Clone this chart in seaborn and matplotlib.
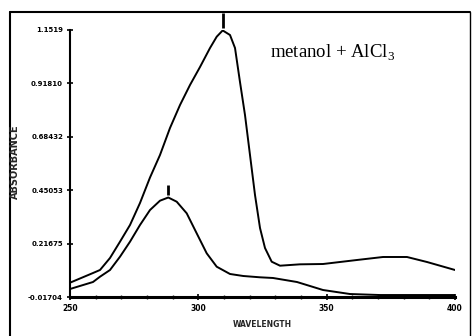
import numpy as np
import pandas as pd
import matplotlib
matplotlib.use("Agg")
import matplotlib.pyplot as plt
from matplotlib.lines import Line2D
import seaborn as sns

# --- data ---
wl_upper = [250.0, 258.96, 261.69, 265.58, 269.48, 273.38, 277.27, 281.17, 285.06, 288.96,
            292.86, 296.75, 300.65, 304.55, 307.16, 309.49, 312.34, 314.29, 316.23, 318.18,
            320.13, 322.08, 324.03, 325.97, 328.58, 331.82, 339.6, 348.57, 361.82, 371.95,
            381.30, 389.09, 400.0]
abs_upper = [0.0456, 0.0880, 0.1012, 0.1537, 0.2251, 0.2982, 0.3945, 0.5061, 0.6046, 0.7229,
             0.8235, 0.9111, 0.9899, 1.0731, 1.1226, 1.1500, 1.1300, 1.0731, 0.9242, 0.7798,
             0.6046, 0.4295, 0.2850, 0.1975, 0.1375, 0.1200, 0.1260, 0.1274, 0.1450, 0.1581,
             0.1581, 0.1362, 0.1012]

wl_lower = [250.0, 258.96, 261.69, 265.58, 269.48, 273.38, 277.27, 281.17, 285.06, 288.30,
            291.57, 295.47, 299.36, 303.26, 307.16, 312.34, 317.52, 324.03, 329.09, 338.44,
            348.57, 359.09, 370.78, 400.0]
abs_lower = [0.0180, 0.0486, 0.0718, 0.1011, 0.1594, 0.2251, 0.2982, 0.3638, 0.4046, 0.4186,
             0.4002, 0.3494, 0.2618, 0.1743, 0.1156, 0.0837, 0.0749, 0.0692, 0.0662, 0.0486,
             0.0136, -0.0040, -0.0084, -0.0084]

y_ticks = [-0.01704, 0.21675, 0.45053, 0.68432, 0.91810, 1.1519]
y_tick_labels = ["-0.01704", "0.21675", "0.45053", "0.68432", "0.91810", "1.1519"]
x_ticks = [250, 300, 350, 400]
x_tick_labels = ["250", "300", "350", "400"]
annotation = "metanol + AlCl$_3$"
x_label = "WAVELENGTH"
y_label = "ABSORBANCE"

sns.set_theme(style="white")
plt.rcParams["font.family"] = ["DejaVu Sans"]
plt.rcParams["mathtext.fontset"] = "custom"
plt.rcParams["mathtext.rm"] = "Liberation Serif"

fig = plt.figure(figsize=(4.73, 3.36), dpi=100)
ax = fig.add_axes([70 / 473, 1 - 297 / 336, (455 - 70) / 473, (297 - 30) / 336])

df_u = pd.DataFrame({"wl": wl_upper, "abs": abs_upper})
df_l = pd.DataFrame({"wl": wl_lower, "abs": abs_lower})
sns.lineplot(data=df_u, x="wl", y="abs", ax=ax, color="black", lw=1.4, estimator=None, sort=True)
sns.lineplot(data=df_l, x="wl", y="abs", ax=ax, color="black", lw=1.4, estimator=None, sort=True)

# peak markers
for w, a, top in ((wl_upper, abs_upper, 0.075), (wl_lower, abs_lower, 0.055)):
    i = int(np.argmax(a))
    ax.vlines(w[i], a[i] + 0.012, a[i] + top, color="black", lw=2, clip_on=False)

ax.set_xlim(250, 400)
ax.set_ylim(y_ticks[0], y_ticks[-1])
ax.set_xticks(x_ticks)
ax.set_xticklabels(x_tick_labels, fontsize=5.5, fontweight="bold")
ax.set_xticks(np.arange(250, 401, 10), minor=True)
ax.set_yticks(y_ticks)
ax.set_yticklabels(y_tick_labels, fontsize=5, fontweight="bold")
ax.tick_params(axis="both", which="major", direction="inout", length=4, width=1.2,
               bottom=True, left=True, pad=3, colors="black")
ax.tick_params(axis="x", which="minor", direction="inout", length=3, width=1, bottom=True)
ax.set_xlabel(x_label, fontsize=5.5, fontweight="bold", labelpad=5)
ax.set_ylabel("")
ax.grid(False)

for s in ("top", "right"):
    ax.spines[s].set_visible(False)
ax.spines["left"].set_linewidth(1.5)
ax.spines["bottom"].set_linewidth(2.2)
ax.spines["left"].set_color("black")
ax.spines["bottom"].set_color("black")

ax.text(0.52, 0.915, annotation, transform=ax.transAxes, fontsize=13.5,
        family="Liberation Serif", ha="left", va="center", color="black")

fig.text(15 / 473, 1 - 162 / 336, y_label, rotation=90, fontsize=7, fontweight="bold",
         ha="center", va="center")

# outer scanned frame
fig.add_artist(Line2D([10 / 473, 470 / 473], [1 - 12 / 336, 1 - 12 / 336], color="black", lw=1.5))
fig.add_artist(Line2D([10 / 473, 10 / 473], [0, 1 - 12 / 336], color="black", lw=1.5))
fig.add_artist(Line2D([470 / 473, 470 / 473], [0, 1 - 12 / 336], color="black", lw=1.0))

fig.savefig("out.png", dpi=100, facecolor="white")
